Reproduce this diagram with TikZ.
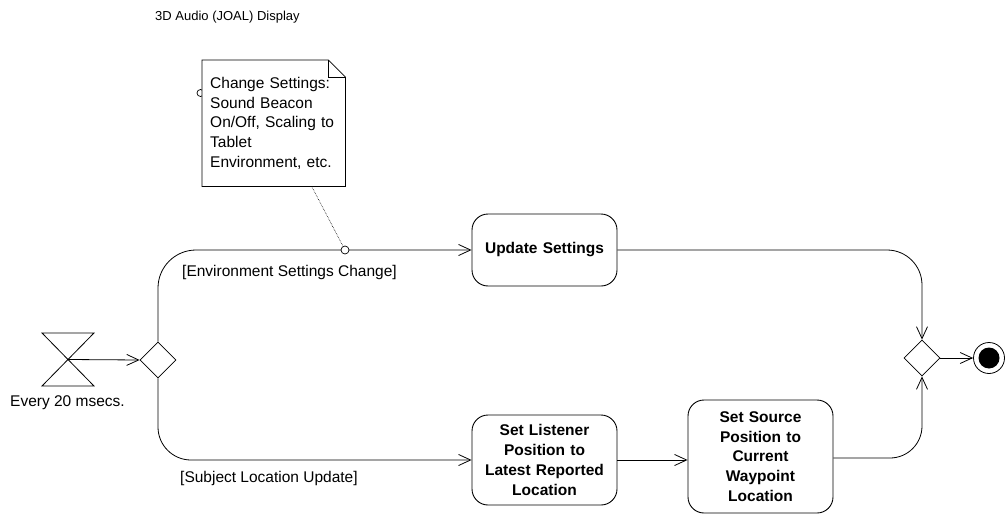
\documentclass[tikz,border=0pt]{standalone}
\usepackage{fontspec}
\setmainfont{Liberation Sans}
\usetikzlibrary{arrows.meta,shapes.geometric}

\begin{document}
\begin{tikzpicture}[x=1pt,y=-1pt,
  flow/.style={draw, line width=0.8pt},
  tip/.style={-{Straight Barb[length=12pt,width=11pt,line width=0.8pt]}},
  action/.style={draw, line width=0.9pt, rounded corners=16pt, align=center,
    font=\fontsize{15.5}{19.8}\selectfont\bfseries, minimum width=145pt,
    text width=135pt, inner sep=0pt},
  txt/.style={font=\fontsize{15.5}{19.8}\selectfont, inner sep=0pt},
  notetext/.style={txt, text width=127pt, align=left, inner sep=8pt,
    minimum height=126pt, anchor=north west},
  decision/.style={diamond, draw, line width=0.8pt, minimum size=36pt,
    inner sep=0pt, fill=white},
]
\useasboundingbox (0,0) rectangle (1005,514);

% title
\node[txt, font=\fontsize{13}{16}\selectfont, anchor=west] (title) at (155,17) {3D Audio (JOAL) Display};

% timer (hourglass)
\coordinate (timer) at (68,359.5);
\draw[line width=0.8pt] (42,333) -- (94,333) -- (42,386) -- (94,386) -- cycle;
\node[txt, anchor=west] (every) at (10,403) {Every 20 msecs.};

% decisions
\node[decision] (split) at (158,360) {};
\node[decision] (merge) at (922,358) {};

% actions
\node[action, minimum height=72pt] (upd) at (544.5,250) {Update Settings};
\node[action, minimum height=90pt] (lis) at (544.5,460) {Set Listener\\ Position to\\ Latest Reported\\ Location};
\node[action, minimum height=113pt] (src) at (760.5,456.5) {Set Source\\ Position to\\ Current\\ Waypoint\\ Location};

% final node
\node[circle, draw, line width=0.8pt, minimum size=31pt, inner sep=0pt] (final) at (989,358) {};
\node[circle, fill=black, minimum size=21pt, inner sep=0pt] (finaldot) at (final) {};

% flows
\draw[flow, tip] (timer) -- (split.west);
\draw[flow, tip, rounded corners=38pt] (split.north) |- (upd.west);
\draw[flow, tip, rounded corners=33pt] (split.south) |- (lis.west);
\draw[flow, tip] (lis.east) -- (lis.east -| src.west);
\draw[flow, tip, rounded corners=35pt] (upd.east) -| (merge.north);
\draw[flow, tip, rounded corners=32pt] ([yshift=-1.5pt]src.east) -| (merge.south);
\draw[flow, tip] (merge.east) -- (final.west);

% guard labels
\node[txt, anchor=west] (envlbl) at (182,272) {[Environment Settings Change]};
\node[txt, anchor=west] (sublbl) at (180,478) {[Subject Location Update]};

% note attached to the settings flow
\draw[line width=0.7pt] (200.5,93) circle (3.5pt);
\node[notetext] (note) at (202,60)
  {Change Settings:\\ Sound Beacon\\ On/Off, Scaling to\\ Tablet\\ Environment, etc.};
\fill[white] (note.north west) -- ([xshift=-17pt]note.north east) -- ([yshift=-17pt]note.north east)
  -- (note.south east) -- (note.south west) -- cycle;
\node[notetext] at (202,60)
  {Change Settings:\\ Sound Beacon\\ On/Off, Scaling to\\ Tablet\\ Environment, etc.};
\draw[line width=0.8pt] (note.north west) -- ([xshift=-17pt]note.north east) -- ([yshift=-17pt]note.north east)
  -- (note.south east) -- (note.south west) -- cycle;
\draw[line width=0.6pt] ([xshift=-17pt]note.north east) -- ([xshift=-17pt,yshift=-17pt]note.north east)
  -- ([yshift=-17pt]note.north east);
\node[circle, draw, line width=0.7pt, fill=white, minimum size=8pt, inner sep=0pt] (anchorpt) at (345,250) {};
\draw[line width=0.6pt, densely dotted] ([xshift=38pt]note.south) -- (anchorpt);
\end{tikzpicture}
\end{document}
